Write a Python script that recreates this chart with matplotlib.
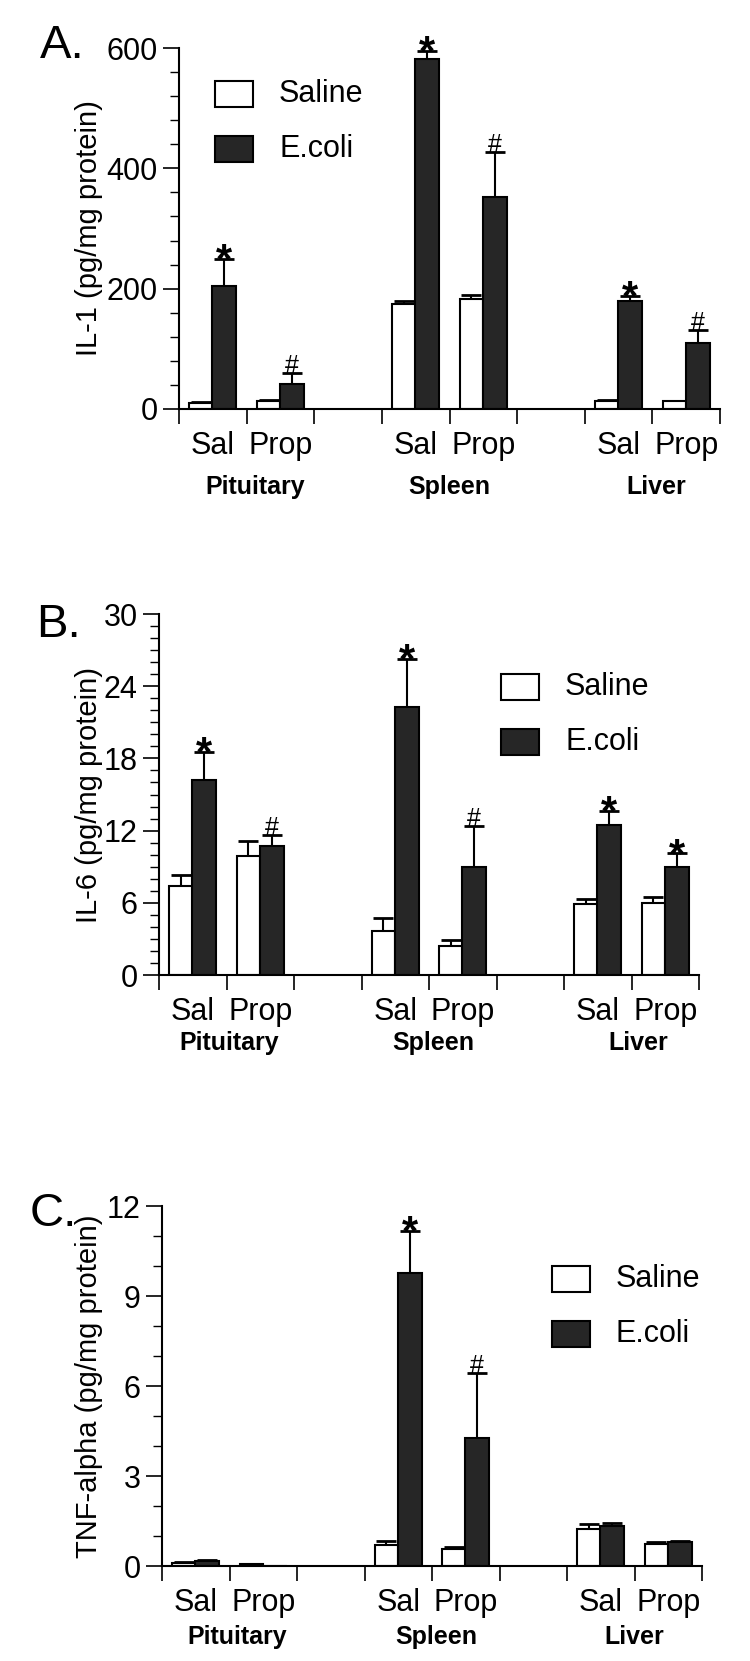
import numpy as np
import matplotlib
matplotlib.use("Agg")
import matplotlib.pyplot as plt
import matplotlib.transforms as mtransforms
from matplotlib.patches import Rectangle
from matplotlib.ticker import MultipleLocator

plt.rcParams['font.family'] = ['Liberation Sans', 'DejaVu Sans']

# ---- data (order: Pit Sal, Pit Prop, Spleen Sal, Spleen Prop, Liver Sal, Liver Prop)
tissues = ['Pituitary', 'Spleen', 'Liver']
treatments = ['Sal', 'Prop']
groups = ['Saline', 'E.coli']

il1_saline = [10, 13, 174, 183, 14, 13]
il1_saline_err = [2, 2, 5, 7, 1, 1]
il1_ecoli = [205, 42, 582, 352, 179, 109]
il1_ecoli_err = [45, 18, 13, 75, 9, 22]
il1_marks = ['*', '#', '*', '#', '*', '#']

il6_saline = [7.4, 9.9, 3.65, 2.4, 5.9, 6.0]
il6_saline_err = [0.9, 1.2, 1.05, 0.5, 0.4, 0.5]
il6_ecoli = [16.2, 10.7, 22.3, 9.0, 12.5, 9.0]
il6_ecoli_err = [2.3, 0.95, 4.0, 3.4, 1.1, 1.1]
il6_marks = ['*', '#', '*', '#', '*', '*']

tnf_saline = [0.10, 0.06, 0.70, 0.57, 1.22, 0.74]
tnf_saline_err = [0.02, 0.01, 0.13, 0.05, 0.18, 0.05]
tnf_ecoli = [0.17, 0.0, 9.76, 4.28, 1.33, 0.80]
tnf_ecoli_err = [0.03, 0.0, 1.42, 2.16, 0.09, 0.03]
tnf_marks = ['', '', '*', '#', '', '']

W, H = 750, 1661
fig = plt.figure(figsize=(W / 100, H / 100), dpi=100)


def fx(x):
    return x / W


def fy(y):
    return 1 - y / H


slots = np.array([0, 1, 3, 4, 6, 7])   # Sal/Prop slot for each tissue, empty slot between tissues
bw = 0.35


def panel(rect, letter, letter_xy, ylabel, ymax, ystep, yminor, sal, sal_err, eco, eco_err, marks,
          legend_xy, group_off, group_x):
    left, top, right, bottom = rect
    ax = fig.add_axes([fx(left), fy(bottom), fx(right - left), (bottom - top) / H])
    x_sal = slots + 0.325
    x_eco = slots + 0.67
    ax.bar(x_sal, sal, bw, color='white', edgecolor='black', linewidth=1.5, zorder=2)
    ax.bar(x_eco, eco, bw, color='#262626', edgecolor='black', linewidth=1.5, zorder=2)
    err_kw = dict(fmt='none', ecolor='black', elinewidth=1.5, capsize=7.5, capthick=2, zorder=1)
    ax.errorbar(x_sal, sal, yerr=[np.zeros(len(sal)), sal_err], **err_kw)
    ax.errorbar(x_eco, eco, yerr=[np.zeros(len(eco)), eco_err], **err_kw)
    for x, v, e, m in zip(x_eco, eco, eco_err, marks):
        if m == '*':
            ax.annotate('*', xy=(x, v + e), xytext=(0, -9.5), textcoords='offset points',
                        ha='center', va='baseline', fontsize=30, fontweight='bold')
        elif m == '#':
            ax.annotate('#', xy=(x, v + e), xytext=(0, 0), textcoords='offset points',
                        ha='center', va='baseline', fontsize=18)

    ax.set_xlim(0, 8)
    ax.set_ylim(0, ymax)
    ax.set_yticks(np.arange(0, ymax + ystep / 2, ystep))
    ax.yaxis.set_minor_locator(MultipleLocator(yminor))
    ax.set_xticks(range(9))
    ax.set_xticklabels([''] * 9)
    ax.set_xticks(slots + 0.5, treatments * 3, minor=True)
    ax.tick_params(axis='x', which='major', direction='out', length=11, width=1.2)
    ax.tick_params(axis='x', which='minor', length=0, pad=16, labelsize=22)
    ax.tick_params(axis='y', which='major', length=11.5, width=1.2, pad=4, labelsize=22)
    ax.tick_params(axis='y', which='minor', length=6.5, width=1.0)
    for s in ['top', 'right']:
        ax.spines[s].set_visible(False)
    for s in ['left', 'bottom']:
        ax.spines[s].set_linewidth(1.5)

    ax.set_ylabel(ylabel, fontsize=21)
    ax.yaxis.set_label_coords((103 - left) / (right - left), 0.5)

    trans = mtransforms.blended_transform_factory(ax.transData, ax.transAxes)
    for gx, name in zip(group_x, tissues):
        ax.text(gx, -group_off / (bottom - top), name, transform=trans, ha='center', va='center',
                fontsize=18, fontweight='bold')

    fig.text(fx(letter_xy[0]), fy(letter_xy[1]), letter, fontsize=34, va='baseline')

    # legend keys
    lx, ly = legend_xy
    for i, (lab, col) in enumerate(zip(groups, ['white', '#262626'])):
        y0 = ly + i * 55
        fig.add_artist(Rectangle((fx(lx), fy(y0 + 26)), 38 / W, 26 / H, transform=fig.transFigure,
                                 facecolor=col, edgecolor='black', linewidth=1.5))
        fig.text(fx(lx + 64), fy(y0 + 13), lab, fontsize=22, va='center', ha='left')
    return ax


panel((179, 48, 720, 409), 'A.', (40, 58), 'IL-1 (pg/mg protein)', 600, 200, 40,
      il1_saline, il1_saline_err, il1_ecoli, il1_ecoli_err, il1_marks,
      (215, 81), 78, [1.12, 4.0, 7.06])
panel((159, 614, 699, 975), 'B.', (36, 637), 'IL-6 (pg/mg protein)', 30, 6, 1,
      il6_saline, il6_saline_err, il6_ecoli, il6_ecoli_err, il6_marks,
      (501, 674), 68, [1.04, 4.07, 7.1])
panel((162, 1206, 702, 1566), 'C.', (30, 1226), 'TNF-alpha (pg/mg protein)', 12, 3, 1,
      tnf_saline, tnf_saline_err, tnf_ecoli, tnf_ecoli_err, tnf_marks,
      (552, 1266), 71, [1.12, 4.07, 7.0])

fig.savefig('out.png', dpi=100)
